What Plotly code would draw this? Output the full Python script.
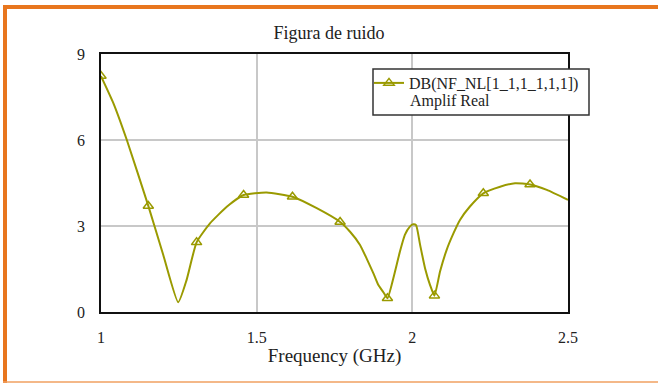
import plotly.graph_objects as go

# ---- data ----
freq_curve = [1.0, 1.04, 1.083, 1.152, 1.20, 1.248, 1.275, 1.307, 1.35, 1.404, 1.458,
              1.532, 1.615, 1.693, 1.768, 1.80, 1.832, 1.853, 1.875, 1.891, 1.907, 1.92,
              1.939, 1.960, 1.976, 1.992, 2.003, 2.012, 2.025, 2.041, 2.057, 2.071,
              2.089, 2.110, 2.132, 2.153, 2.185, 2.228, 2.282, 2.330, 2.378, 2.432, 2.5]
nf_curve = [8.23, 7.28, 6.0, 3.70, 1.99, 0.34, 1.12, 2.43, 3.09, 3.67, 4.08,
            4.17, 4.02, 3.62, 3.14, 2.80, 2.34, 1.87, 1.35, 0.94, 0.69, 0.48,
            1.18, 2.10, 2.69, 2.98, 3.06, 3.03, 2.34, 1.52, 0.94, 0.57,
            1.41, 2.16, 2.74, 3.21, 3.68, 4.14, 4.37, 4.49, 4.45, 4.26, 3.91]

freq_marks = [1.0, 1.152, 1.307, 1.458, 1.615, 1.768, 1.92, 2.071, 2.228, 2.378]
nf_marks = [8.23, 3.70, 2.43, 4.08, 4.02, 3.14, 0.48, 0.57, 4.14, 4.45]

x_ticks = [1, 1.5, 2, 2.5]
x_ticklabels = ["1", "1.5", "2", "2.5"]
y_ticks = [0, 3, 6, 9]
y_ticklabels = ["0", "3", "6", "9"]

series_name = "DB(NF_NL[1_1,1_1,1,1])"
series_name_line2 = "Amplif Real"
title_text = "Figura de ruido"
x_title = "Frequency (GHz)"

# ---- figure ----
OLIVE = "#9a9a00"
ORANGE = "#e8761e"
FONT = "Liberation Serif, Times New Roman, serif"
TXT = "#222222"

fig = go.Figure()
fig.add_trace(go.Scatter(x=freq_curve, y=nf_curve, mode="lines",
                         line=dict(color=OLIVE, width=2, shape="spline", smoothing=0.5),
                         showlegend=False, hoverinfo="skip"))
fig.add_trace(go.Scatter(x=freq_marks, y=nf_marks, mode="markers",
                         marker=dict(symbol="triangle-up-open", size=9, color=OLIVE,
                                     line=dict(width=1.5, color=OLIVE)),
                         showlegend=False))
fig.add_trace(go.Scatter(x=[None], y=[None], mode="lines+markers", name=series_name,
                         line=dict(color=OLIVE, width=2),
                         marker=dict(symbol="triangle-up-open", size=9, color=OLIVE,
                                     line=dict(width=1.5, color=OLIVE))))

L, R, T, B = 101, 90, 54, 71
W, H = 658, 383
pw, ph = W - L - R, H - T - B

def px(xp):
    return (xp - L) / pw

def py(yp):
    return (H - B - yp) / ph

shapes = [
    # top orange band
    dict(type="rect", xref="paper", yref="paper", x0=px(3), x1=px(658), y0=py(9), y1=py(5),
         fillcolor=ORANGE, line=dict(width=0), layer="above"),
    # left orange band
    dict(type="rect", xref="paper", yref="paper", x0=px(3), x1=px(7), y0=py(383), y1=py(5),
         fillcolor=ORANGE, line=dict(width=0), layer="above"),
    # bottom thin line
    dict(type="line", xref="paper", yref="paper", x0=px(3), x1=px(658), y0=py(382), y1=py(382),
         line=dict(color="#f0a060", width=1.5), layer="above"),
    # legend box
    dict(type="rect", xref="paper", yref="paper", x0=px(373), x1=px(589), y0=py(115), y1=py(69),
         fillcolor="white", line=dict(color="#333333", width=1.5), layer="above"),
]

annotations = [
    dict(text=series_name_line2, xref="paper", yref="paper", x=px(408), y=py(101),
         xanchor="left", yanchor="middle", showarrow=False,
         font=dict(family=FONT, size=16, color=TXT)),
]

fig.update_layout(
    width=W, height=H,
    margin=dict(l=L, r=R, t=T, b=B),
    paper_bgcolor="white", plot_bgcolor="white",
    font=dict(family=FONT, size=16, color=TXT),
    title=dict(text=title_text, x=px(334.5), xanchor="center", y=1 - 33 / H, yanchor="middle",
               font=dict(family=FONT, size=18, color=TXT)),
    shapes=shapes,
    annotations=annotations,
    showlegend=True,
    legend=dict(x=px(369), y=py(66), xanchor="left", yanchor="top",
                bgcolor="rgba(0,0,0,0)", borderwidth=0,
                font=dict(family=FONT, size=16, color=TXT),
                itemwidth=30),
)
fig.update_xaxes(range=[1, 2.5], tickvals=x_ticks, ticktext=x_ticklabels,
                 showgrid=True, gridcolor="#c8c8c8", gridwidth=1.5,
                 showline=True, linecolor="#111111", linewidth=1.5, mirror=True,
                 ticks="", zeroline=False, ticklabelstandoff=10,
                 title=dict(text=x_title, standoff=4),
                 tickfont=dict(family=FONT, size=16, color=TXT))
fig.update_yaxes(range=[0, 9], tickvals=y_ticks, ticktext=y_ticklabels,
                 showgrid=True, gridcolor="#c8c8c8", gridwidth=1.5,
                 showline=True, linecolor="#111111", linewidth=1.5, mirror=True,
                 ticks="", zeroline=False, ticklabelstandoff=11,
                 tickfont=dict(family=FONT, size=16, color=TXT))

fig.write_html("out.html")
